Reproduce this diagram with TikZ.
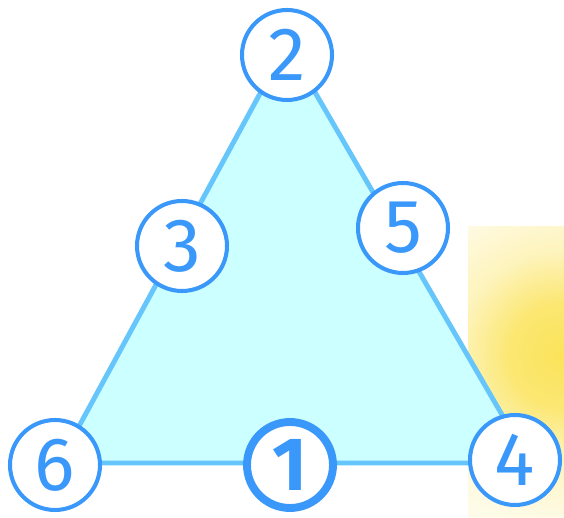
\documentclass[tikz,border=0pt]{standalone}
\usepackage{fontspec}
\setmainfont{Fira Sans}
\usepackage{xcolor}
\usepackage{tikz}
\definecolor{ringblue}{HTML}{3A98FA}
\definecolor{edgeblue}{HTML}{66C6FC}
\definecolor{facecyan}{HTML}{CCFFFF}
\definecolor{glowyellow}{HTML}{FBE35A}

\pgfdeclareradialshading{sunglow}{\pgfpoint{0bp}{0bp}}{%
  color(0bp)=(glowyellow);
  color(5bp)=(glowyellow!85);
  color(10bp)=(glowyellow!40);
  color(15bp)=(glowyellow!18);
  color(20bp)=(glowyellow!8);
  color(26bp)=(glowyellow!3);
  color(28bp)=(white);
  color(50bp)=(white)}

\tikzset{
  numnode/.style={circle, draw=ringblue, line width=2.3pt, fill=white,
    minimum size=1.8cm, inner sep=0pt, text=ringblue,
    font=\fontsize{43}{43}\selectfont},
  startnode/.style={numnode, line width=4.5pt, minimum size=1.72cm,
    font=\fontsize{43}{43}\selectfont\bfseries},
  rim/.style={draw=edgeblue, line width=2.8pt, fill=facecyan}
}

\begin{document}
\begin{tikzpicture}
    \useasboundingbox (0,0) rectangle (11.28,10.36);

    \begin{scope}
      \clip (9.36,0) rectangle (11.28,5.82);
      \shade[shading=sunglow] (11.22,3.26) circle (5.2);
    \end{scope}

    \coordinate (apex)  at (5.74, 9.48);
    \coordinate (left)  at (1.18, 1.10);
    \coordinate (right) at (10.60, 1.10);
    \path[rim] (apex) -- (left) -- (right) -- cycle;

    \node[numnode]   (n2) at (5.74, 9.26) {2};
    \node[numnode]   (n3) at (3.64, 5.44) {3};
    \node[numnode]   (n5) at (8.06, 5.80) {5};
    \node[numnode]   (n6) at (1.10, 1.06) {6};
    \node[startnode] (n1) at (5.80, 1.06) {1};
    \node[numnode]   (n4) at (10.30, 1.16) {4};
  \end{tikzpicture}
\end{document}
